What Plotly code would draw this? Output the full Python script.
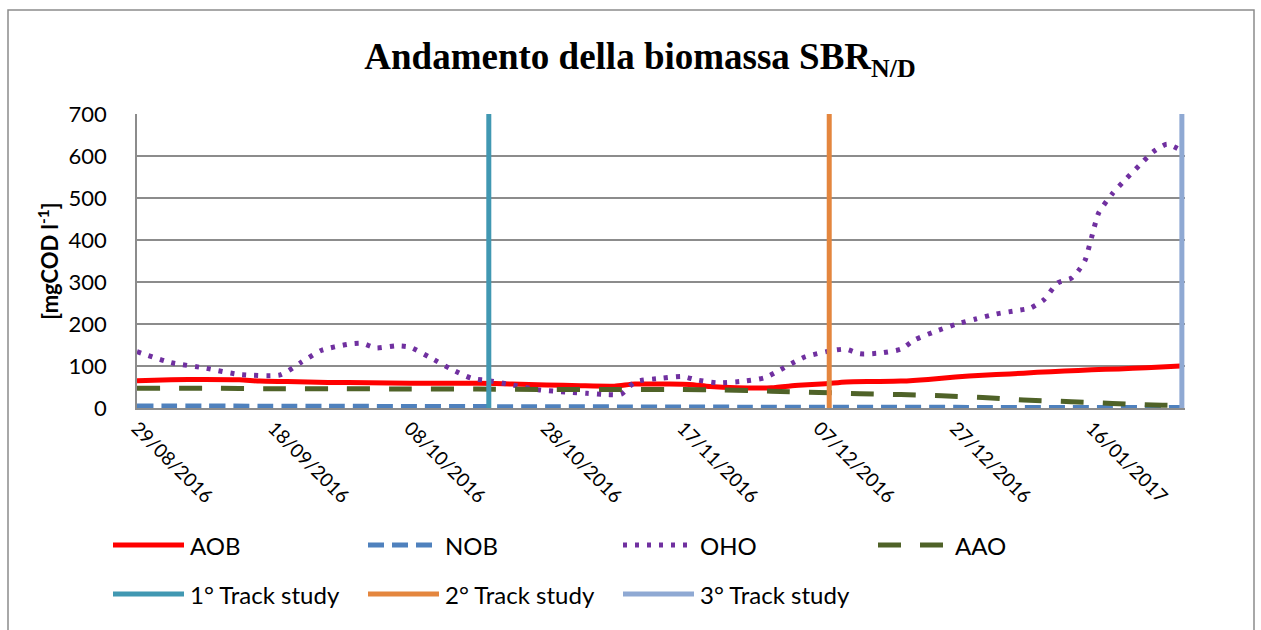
import plotly.graph_objects as go

# ---------------- data ----------------
oho_dates = ["2016-08-29","2016-09-03","2016-09-08","2016-09-13","2016-09-19","2016-09-22","2016-09-25",
             "2016-09-29","2016-10-01","2016-10-03","2016-10-06","2016-10-08","2016-10-11","2016-10-14",
             "2016-10-17","2016-10-20","2016-10-23","2016-10-27","2016-10-31","2016-11-03","2016-11-06",
             "2016-11-08","2016-11-10","2016-11-14","2016-11-17","2016-11-19","2016-11-22","2016-11-26",
             "2016-11-29","2016-12-01","2016-12-03","2016-12-05","2016-12-09","2016-12-11","2016-12-13",
             "2016-12-16","2016-12-19","2016-12-21","2016-12-24","2016-12-27","2016-12-30","2017-01-02",
             "2017-01-05","2017-01-07","2017-01-09","2017-01-11","2017-01-13","2017-01-14","2017-01-15",
             "2017-01-16","2017-01-17","2017-01-19","2017-01-21","2017-01-23","2017-01-25","2017-01-27",
             "2017-01-29"]
oho_vals = [134,108,95,80,79,108,137,
            152,154,143,148,145,120,93,
            71,64,55,43,38,35,32,
            33,62,71,75,67,60,64,
            72,88,106,122,137,140,129,
            131,140,162,182,199,212,224,
            232,238,258,298,309,326,351,
            408,464,510,545,578,610,628,
            614]

aob_dates = ["2016-08-29","2016-09-03","2016-09-08","2016-09-13","2016-09-16","2016-09-20","2016-09-26",
             "2016-10-02","2016-10-08","2016-10-14","2016-10-18","2016-10-23","2016-10-28","2016-11-02",
             "2016-11-07","2016-11-10","2016-11-15","2016-11-18","2016-11-21","2016-11-25","2016-11-30",
             "2016-12-04","2016-12-08","2016-12-11","2016-12-15","2016-12-19","2016-12-23","2016-12-27",
             "2016-12-31","2017-01-04","2017-01-08","2017-01-12","2017-01-16","2017-01-20","2017-01-24",
             "2017-01-29"]
aob_vals = [65,67,68,67,64,63,61,
            60,59,59,59,57,55,53,
            52,57,57,56,51,48,48,
            54,58,62,63,64,68,74,
            78,81,85,88,91,93,96,
            100]

aao_dates = ["2016-08-29","2016-09-08","2016-09-18","2016-09-28","2016-10-08","2016-10-18","2016-10-28",
             "2016-11-07","2016-11-17","2016-11-23","2016-11-30","2016-12-07","2016-12-13","2016-12-19",
             "2016-12-25","2016-12-31","2017-01-06","2017-01-13","2017-01-19","2017-01-25","2017-01-29"]
aao_vals = [47,47,46,46,45,45,44,
            44,44,43,40,37,34,32,
            29,25,19,15,11,7,6]

nob_dates = ["2016-08-29","2016-09-28","2016-10-28","2016-11-27","2016-12-27","2017-01-29"]
nob_vals = [5,4,3,2,1.5,1]

track_names = ["1° Track study", "2° Track study", "3° Track study"]
track_dates = ["2016-10-19 14:00", "2016-12-08 12:00", "2017-01-29 05:00"]
track_colors = ["#4198B2", "#E4863E", "#8FA9D3"]

x_range = ["2016-08-29", "2017-01-29 16:00"]
tick_dates = ["2016-08-29","2016-09-18","2016-10-08","2016-10-28","2016-11-17","2016-12-07","2016-12-27","2017-01-16"]
tick_text = ["29/08/2016","18/09/2016","08/10/2016","28/10/2016","17/11/2016","07/12/2016","27/12/2016","16/01/2017"]
y_ticks = [0,100,200,300,400,500,600,700]

# ---------------- layout geometry ----------------
W, H = 1261, 630
L, R, T, B = 137, 76, 114, 222
PW, PH = W - L - R, H - T - B

def px(xp):
    return (xp - L) / PW

def py(yp):
    return (H - B - yp) / PH

fig = go.Figure()

series = [
    ("AOB", aob_dates, aob_vals, "#FF0000", "solid"),
    ("NOB", nob_dates, nob_vals, "#4F81BD", "16px,8px"),
    ("OHO", oho_dates, oho_vals, "#7030A0", "4px,8px"),
    ("AAO", aao_dates, aao_vals, "#4F6228", "23px,19px"),
]
for name, xd, yd, col, dash in series:
    fig.add_trace(go.Scatter(x=xd, y=yd, name=name, mode="lines",
                             line=dict(color=col, width=5, dash=dash, shape="spline", smoothing=0.6),
                             showlegend=False, hoverinfo="skip"))

for name, d, col in zip(track_names, track_dates, track_colors):
    fig.add_trace(go.Scatter(x=[d, d], y=[y_ticks[0], y_ticks[-1]], name=name, mode="lines",
                             line=dict(color=col, width=5), showlegend=False, hoverinfo="skip"))

# ---------------- custom legend ----------------
legend_items = [
    ("AOB", "#FF0000", "solid", 113, 545),
    ("NOB", "#4F81BD", "16px,8px", 368, 545),
    ("OHO", "#7030A0", "4px,8px", 623, 545),
    ("AAO", "#4F6228", "23px,19px", 878, 545),
    ("1° Track study", "#4198B2", "solid", 113, 594),
    ("2° Track study", "#E4863E", "solid", 368, 594),
    ("3° Track study", "#8FA9D3", "solid", 623, 594),
]
shapes = []
annotations = []
for text, col, dash, x0, yc in legend_items:
    shapes.append(dict(type="line", xref="paper", yref="paper",
                       x0=px(x0), x1=px(x0 + 71), y0=py(yc), y1=py(yc),
                       line=dict(color=col, width=5, dash=dash)))
    annotations.append(dict(text=text, xref="paper", yref="paper", x=px(x0 + 75), y=py(yc),
                            xanchor="left", yanchor="middle", showarrow=False,
                            font=dict(family="Lato", size=24, color="black")))

# outer chart border
shapes.append(dict(type="rect", xref="paper", yref="paper",
                   x0=px(8), x1=px(1254), y0=py(660), y1=py(10),
                   line=dict(color="#8C8C8C", width=1.5), fillcolor="rgba(0,0,0,0)", layer="below"))

fig.update_layout(
    width=W, height=H,
    margin=dict(l=L, r=R, t=T, b=B),
    paper_bgcolor="white", plot_bgcolor="white",
    title=dict(text="<b>Andamento della biomassa SBR<sub>N/D</sub></b>",
               font=dict(family="Liberation Serif", size=37, color="black"),
               x=640 / W, xanchor="center", xref="container",
               y=1 - 56 / H, yanchor="middle", yref="container"),
    xaxis=dict(type="date", range=x_range, tickvals=tick_dates, ticktext=tick_text,
               tickangle=45, tickfont=dict(family="Lato", size=19, color="black"),
               showgrid=False, zeroline=False, showline=True, linecolor="#8C8C8C", linewidth=1.5,
               ticks=""),
    yaxis=dict(range=[0, 700], tickvals=y_ticks, tickfont=dict(family="Lato", size=22, color="black"),
               showgrid=True, gridcolor="#8C8C8C", gridwidth=1.5, zeroline=False,
               showline=True, linecolor="#8C8C8C", linewidth=1.5, ticks="",
               ticklabelstandoff=24,
               title=dict(text="<b>[mgCOD l<sup>-1</sup>]</b>", standoff=4,
                          font=dict(family="Lato", size=22, color="black"))),
    shapes=shapes,
    annotations=annotations,
    showlegend=False,
)

fig.write_html("out.html", config={"displayModeBar": False},
               post_script="document.body.style.margin='0';")
